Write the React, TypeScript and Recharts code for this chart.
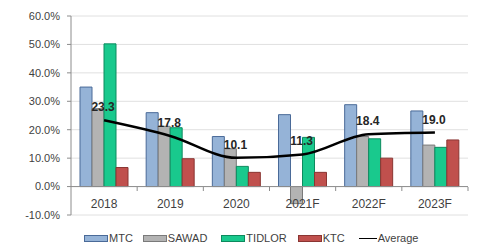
import {
  ComposedChart,
  Bar,
  Line,
  XAxis,
  YAxis,
  CartesianGrid,
  ReferenceLine,
  LabelList,
} from 'recharts'

const years = ['2018', '2019', '2020', '2021F', '2022F', '2023F']
const mtc = [35.0, 26.0, 17.6, 25.3, 28.8, 26.6]
const sawad = [27.4, 21.2, 13.3, -6.0, 17.6, 14.6]
const tidlor = [50.2, 20.7, 7.1, 17.3, 16.8, 13.8]
const ktc = [6.7, 9.8, 5.0, 5.0, 10.0, 16.4]
const average = [23.3, 17.8, 10.1, 11.3, 18.4, 19.0]
const yTicks = [-10, 0, 10, 20, 30, 40, 50, 60]

const data = years.map((year, i) => ({
  year,
  MTC: mtc[i],
  SAWAD: sawad[i],
  TIDLOR: tidlor[i],
  KTC: ktc[i],
  Average: average[i],
}))

const W = 479
const H = 248
const X_HEIGHT = 30
const MARGIN = { top: 16, right: 11, left: 0, bottom: 33 - X_HEIGHT }
const Y_WIDTH = 71
const BAND = (W - Y_WIDTH - MARGIN.right) / years.length
const FONT = '"Liberation Sans", Arial, sans-serif'
const TEXT = '#3f3f3f'
const AXIS = '#8c8c8c'
const GRID = '#e0e0e0'

const SERIES = [
  { key: 'MTC', fill: '#95b3d7', stroke: '#4a6a98' },
  { key: 'SAWAD', fill: '#b3b3b3', stroke: '#7a7a7a' },
  { key: 'TIDLOR', fill: '#19c98d', stroke: '#0d8a5e' },
  { key: 'KTC', fill: '#c0504d', stroke: '#8a3532' },
]

function YearTick(props: any) {
  const { x, y, payload } = props
  const bx = x + BAND / 2
  return (
    <g>
      <line x1={bx} x2={bx} y1={y - 28} y2={y - 24} stroke={AXIS} strokeWidth={1} />
      <text x={x} y={y - 7} textAnchor="middle" fontSize={12} fill={TEXT} fontFamily={FONT}>
        {payload.value}
      </text>
    </g>
  )
}

function AvgLabel(props: any) {
  const { x, y, value } = props
  return (
    <text x={x - 1} y={y - 9} textAnchor="middle" fontSize={12} fontWeight="bold" fill="#262626" fontFamily={FONT}>
      {Number(value).toFixed(1)}
    </text>
  )
}

function LegendRow() {
  const item = (label: string, icon: any, gap: number) => (
    <div key={label} style={{ display: 'flex', alignItems: 'center', marginRight: gap }}>
      {icon}
      <span style={{ marginLeft: 1 }}>{label}</span>
    </div>
  )
  const gaps = [10, 14, 11, 14]
  return (
    <div
      style={{
        position: 'absolute',
        left: 84,
        top: 231,
        display: 'flex',
        fontSize: 11,
        color: TEXT,
        fontFamily: FONT,
        lineHeight: '14px',
      }}
    >
      {SERIES.map((s, i) =>
        item(
          s.key,
          <div style={{ width: 22, height: 5, background: s.fill, border: `1px solid ${s.stroke}` }} />,
          gaps[i],
        ),
      )}
      {item('Average', <div style={{ width: 18, height: 0, borderTop: '1.5px solid #000' }} />, 0)}
    </div>
  )
}

export default function App() {
  return (
    <div style={{ position: 'absolute', left: 0, top: 0, width: W, height: H, background: '#fff' }}>
      <ComposedChart
        width={W}
        height={H}
        data={data}
        margin={MARGIN}
        barCategoryGap={9}
        barGap={0}
      >
        <CartesianGrid vertical={false} stroke={GRID} />
        <XAxis
          dataKey="year"
          height={X_HEIGHT}
          axisLine={false}
          tickLine={false}
          tickSize={0}
          tickMargin={0}
          tick={<YearTick />}
          interval={0}
        />
        <YAxis
          width={Y_WIDTH}
          domain={[-10, 60]}
          ticks={yTicks}
          interval={0}
          tickFormatter={(v: number) => `${v.toFixed(1)}%`}
          tick={{ fontSize: 11, fill: TEXT, fontFamily: FONT }}
          axisLine={{ stroke: AXIS }}
          tickLine={{ stroke: AXIS }}
          tickSize={4}
          tickMargin={7}
          allowDataOverflow
        />
        <ReferenceLine y={0} stroke={AXIS} strokeWidth={1} />
        {SERIES.map((s) => (
          <Bar
            key={s.key}
            dataKey={s.key}
            fill={s.fill}
            stroke={s.stroke}
            strokeWidth={1}
            isAnimationActive={false}
          />
        ))}
        <Line
          type="monotone"
          dataKey="Average"
          stroke="#000"
          strokeWidth={2.5}
          dot={false}
          isAnimationActive={false}
        >
          <LabelList dataKey="Average" content={<AvgLabel />} />
        </Line>
      </ComposedChart>
      <LegendRow />
    </div>
  )
}
